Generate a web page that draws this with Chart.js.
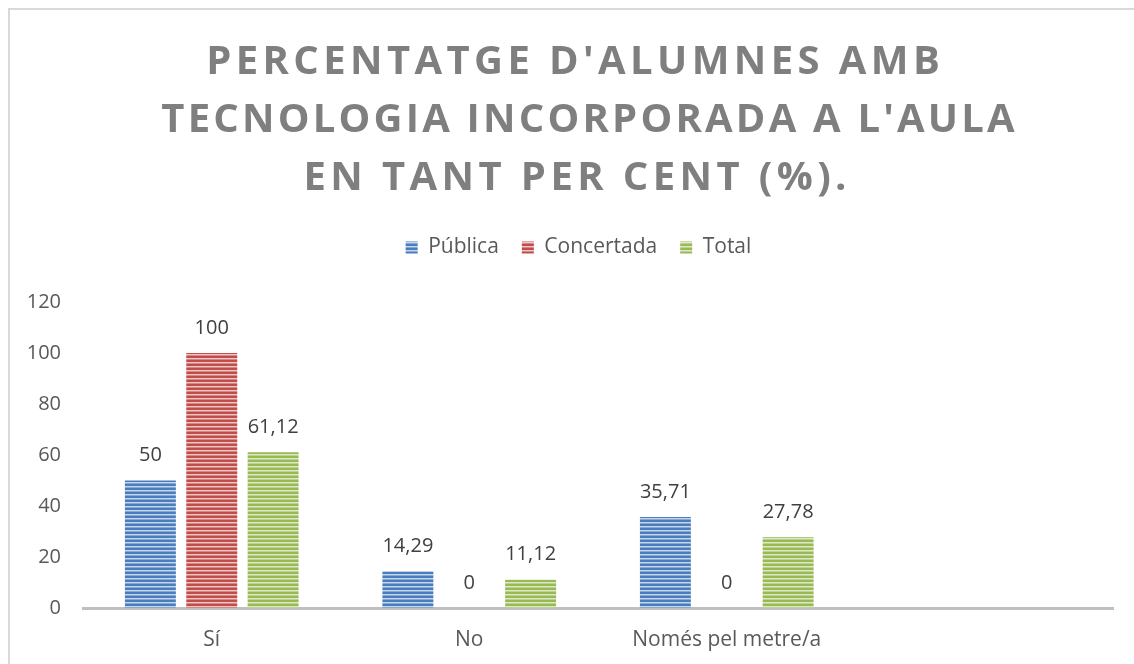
<!DOCTYPE html>
<html>
<head>
<meta charset="utf-8">
<script src="https://cdn.jsdelivr.net/npm/chart.js@4.4.1/dist/chart.umd.min.js"></script>
<style>
  html, body { margin: 0; padding: 0; background: #ffffff; }
  #wrap { position: relative; width: 1134px; height: 664px; }
</style>
</head>
<body>
<div id="wrap"><canvas id="c" width="1134" height="664"></canvas></div>
<script>
const categories = ['Sí', 'No', 'Només pel metre/a', ''];
const publica = [50, 14.29, 35.71, null];
const concertada = [100, 0, 0, null];
const total = [61.12, 11.12, 27.78, null];
const seriesNames = ['Pública', 'Concertada', 'Total'];
const titleLines = ["PERCENTATGE D'ALUMNES AMB", "TECNOLOGIA INCORPORADA A L'AULA", "EN TANT PER CENT (%)."];
const yTicks = [0, 20, 40, 60, 80, 100, 120];

const FONT = "'Open Sans', 'Noto Sans', sans-serif";

function stripes(base, light, mid) {
  const c = document.createElement('canvas');
  c.width = 4; c.height = 4;
  const x = c.getContext('2d');
  x.fillStyle = base; x.fillRect(0, 0, 4, 4);
  x.fillStyle = light; x.fillRect(0, 2, 4, 1);
  x.fillStyle = mid; x.fillRect(0, 3, 4, 1);
  return x.createPattern(c, 'repeat');
}
const blueP = stripes('#4a7dbb', '#c6d6ea', '#86a8d3');
const redP = stripes('#bf4d4a', '#ecc7c6', '#d68684');
const greenP = stripes('#98b954', '#dce8c6', '#bcd291');

const frameBorder = {
  id: 'frameBorder',
  beforeDraw(chart) {
    const c = chart.ctx;
    c.save();
    c.strokeStyle = '#d9d9d9';
    c.lineWidth = 2;
    c.strokeRect(9, 9, 1200, 700);
    c.restore();
  }
};

// empty layout box between legend and plot area
const legendSpacer = {
  id: 'legendSpacer',
  beforeInit(chart) {
    Chart.layouts.addBox(chart, {
      id: 'spacerBox',
      position: 'top',
      weight: 500,
      fullSize: true,
      options: {},
      left: 0, top: 0, right: 0, bottom: 0, width: 0, height: 0,
      isHorizontal() { return true; },
      update(maxWidth) { this.width = maxWidth; this.height = 34; return this.height; },
      draw() {}
    });
  },
  afterLayout(chart) {
    // shift the legend row a little to the right, as in the reference
    if (chart.legend) { chart.legend.left += 22; chart.legend.right += 22; }
  }
};

const titlePlugin = {
  id: 'spacedTitle',
  afterDraw(chart) {
    const c = chart.ctx;
    c.save();
    c.font = "bold 40px " + FONT;
    c.fillStyle = '#7f7f7f';
    c.textAlign = 'center';
    c.textBaseline = 'alphabetic';
    const spacing = [4.4, 3.2, 4.4];
    const centers = [573, 588, 575];
    const baselines = [74, 132, 190];
    titleLines.forEach((t, i) => {
      c.letterSpacing = spacing[i] + 'px';
      c.fillText(t, centers[i] + spacing[i] / 2, baselines[i]);
    });
    c.restore();
  }
};

const valueLabels = {
  id: 'valueLabels',
  afterDatasetsDraw(chart) {
    const c = chart.ctx;
    c.save();
    c.font = "20px " + FONT;
    c.fillStyle = '#404040';
    c.textAlign = 'center';
    c.textBaseline = 'middle';
    chart.data.datasets.forEach((ds, di) => {
      const meta = chart.getDatasetMeta(di);
      meta.data.forEach((bar, i) => {
        const v = ds.data[i];
        if (v === null || v === undefined) return;
        const txt = String(v).replace('.', ',');
        c.fillText(txt, bar.x, bar.y - 25);
      });
    });
    c.restore();
  }
};

new Chart(document.getElementById('c'), {
  type: 'bar',
  data: {
    labels: categories,
    datasets: [
      { label: seriesNames[0], data: publica, backgroundColor: blueP, borderWidth: 0 },
      { label: seriesNames[1], data: concertada, backgroundColor: redP, borderWidth: 0 },
      { label: seriesNames[2], data: total, backgroundColor: greenP, borderWidth: 0 }
    ]
  },
  options: {
    responsive: false,
    animation: false,
    events: [],
    layout: { padding: { top: 214, right: 21, bottom: 0, left: 0 } },
    datasets: { bar: { categoryPercentage: 0.715, barPercentage: 0.83 } },
    plugins: {
      legend: {
        position: 'top',
        labels: {
          font: { family: FONT, size: 21 },
          color: '#595959',
          boxWidth: 12,
          boxHeight: 12,
          padding: 23
        }
      },
      title: { display: false },
      tooltip: { enabled: false }
    },
    scales: {
      x: {
        afterFit(scale) { scale.height = 56; },
        grid: { display: false, drawTicks: false },
        border: { display: true, color: '#bfbfbf', width: 3 },
        ticks: { font: { family: FONT, size: 21 }, color: '#595959', padding: 19, maxRotation: 0 }
      },
      y: {
        min: 0, max: 120,
        afterBuildTicks(scale) { scale.ticks = yTicks.map(v => ({ value: v })); },
        afterFit(scale) { scale.width = 83; },
        grid: { display: false, drawTicks: false },
        border: { display: false },
        ticks: { font: { family: FONT, size: 20 }, color: '#595959', padding: 22 }
      }
    }
  },
  plugins: [frameBorder, legendSpacer, titlePlugin, valueLabels]
});
</script>
</body>
</html>
